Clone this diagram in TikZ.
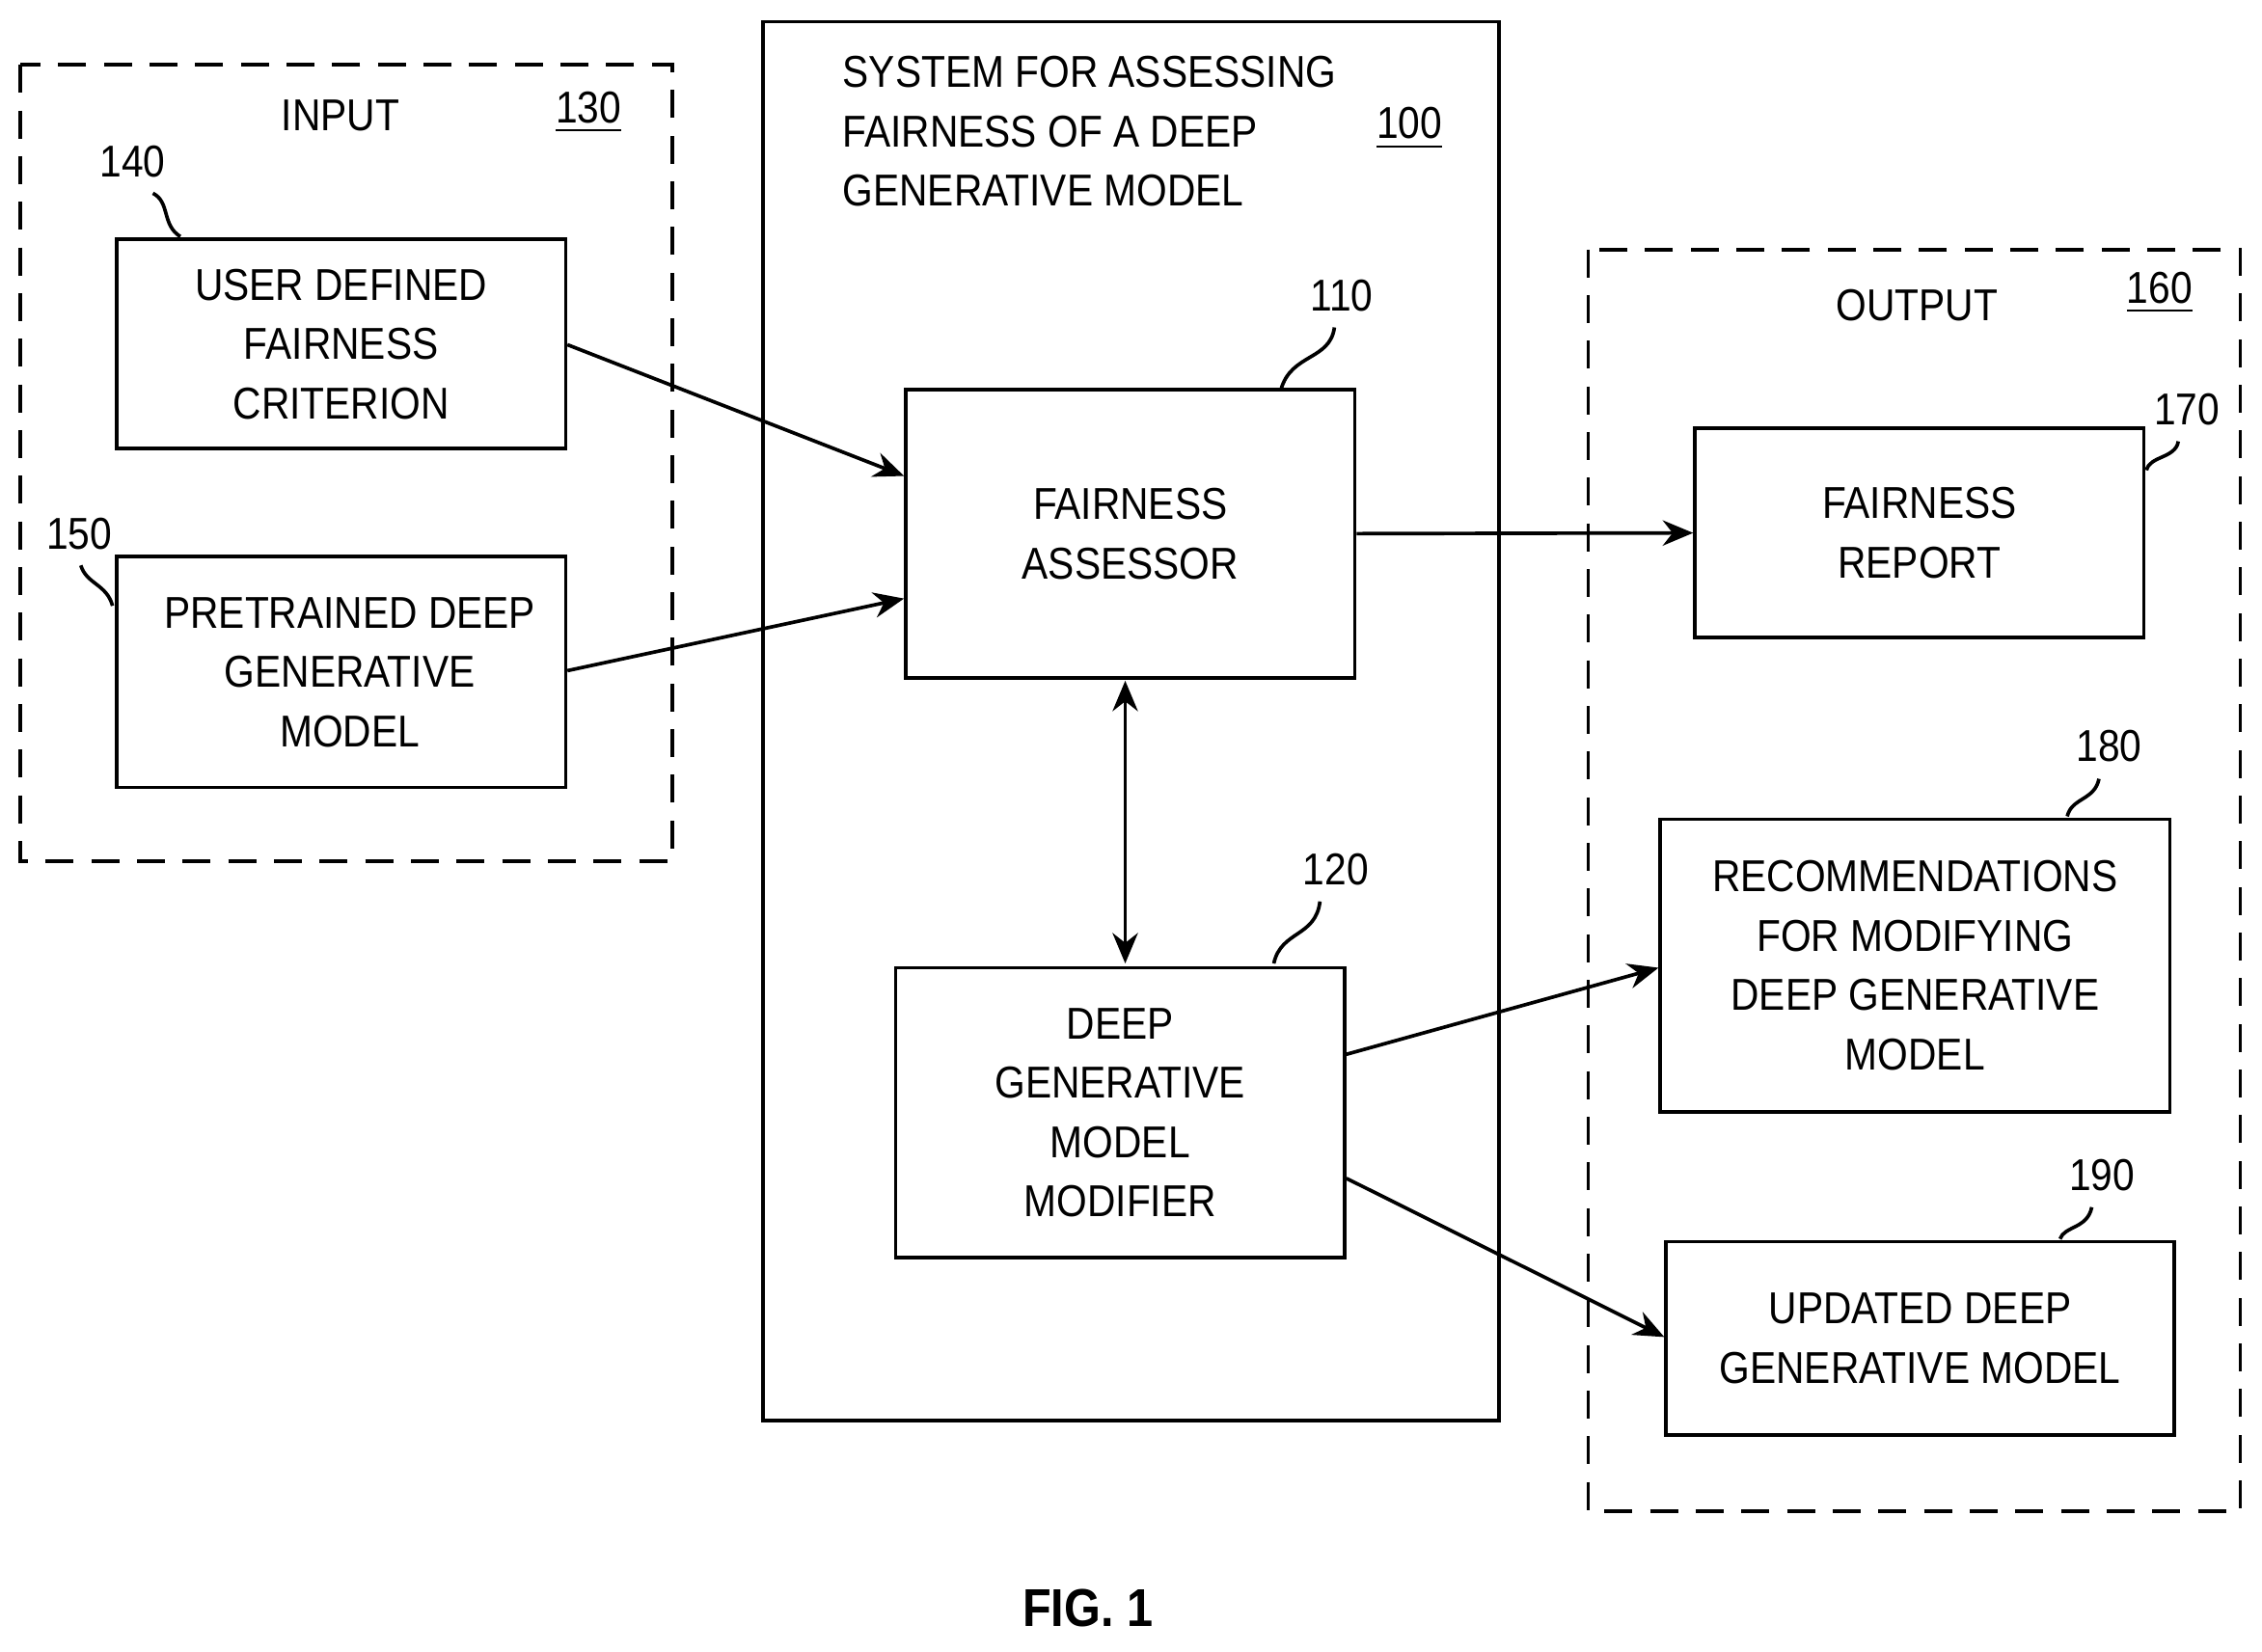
\documentclass[tikz,border=0pt]{standalone}
\usepackage{fontspec}
\setmainfont[FakeStretch=0.88]{Liberation Sans}
\usetikzlibrary{arrows.meta}
\begin{document}
\begin{tikzpicture}[x=0.01cm,y=-0.01cm,
  lw/.style={line width=0.7pt},
  box/.style={draw,lw,rectangle,inner sep=0pt,align=center,font=\fontsize{8.8}{11.7}\selectfont},
  dbox/.style={draw,lw,dash pattern=on 5.5pt off 3.5pt},
  lbl/.style={font=\fontsize{8.8}{11.7}\selectfont,inner sep=1pt},
  arr/.style={lw,-{Stealth[length=6pt,width=5pt]}},
  sq/.style={lw}]
\useasboundingbox (0,0) rectangle (1568,1145);
% containers
\draw[dbox] (14,45) rectangle (466,597);
\draw[dbox] (1101,173) rectangle (1553,1048);
\draw[lw] (529,15) rectangle (1039,985);
\node[lbl] (tin) at (236,80) {INPUT};
\node[lbl] (n130) at (408,78) {\underline{130}};
\node[lbl] (tout) at (1329,212) {OUTPUT};
\node[lbl] (n160) at (1497,203) {\underline{160}};
\node[lbl,anchor=west,align=left] (tsys) at (580,91) {SYSTEM FOR ASSESSING\\FAIRNESS OF A DEEP\\GENERATIVE MODEL};
\node[lbl] (n100) at (977,89) {\underline{100}};
% boxes
\node[box,minimum width=311\pgflinewidth*0+3.11cm,minimum height=1.45cm] (b140) at (236.5,238.5) {USER DEFINED\\FAIRNESS\\CRITERION};
\node[box,minimum width=3.11cm,minimum height=1.60cm] (b150) at (236.5,466) {\hspace*{0.12cm}PRETRAINED DEEP\\\hspace*{0.12cm}GENERATIVE\\\hspace*{0.12cm}MODEL};
\node[box,minimum width=3.11cm,minimum height=2.00cm] (b110) at (783.5,370) {FAIRNESS\\ASSESSOR};
\node[box,minimum width=3.11cm,minimum height=2.01cm] (b120) at (776.5,771.5) {DEEP\\GENERATIVE\\MODEL\\MODIFIER};
\node[box,minimum width=3.11cm,minimum height=1.45cm] (b170) at (1330.5,369.5) {FAIRNESS\\REPORT};
\node[box,minimum width=3.53cm,minimum height=2.03cm] (b180) at (1327.5,669.5) {RECOMMENDATIONS\\FOR MODIFYING\\DEEP GENERATIVE\\MODEL};
\node[box,minimum width=3.52cm,minimum height=1.34cm] (b190) at (1331,928) {UPDATED DEEP\\GENERATIVE MODEL};
% reference labels
\node[lbl] (n140) at (92,112) {140};
\node[lbl] (n150) at (55,370) {150};
\node[lbl] (n110) at (930,205) {110};
\node[lbl] (n120) at (926,603) {120};
\node[lbl] (n170) at (1516,284) {170};
\node[lbl] (n180) at (1462,517) {180};
\node[lbl] (n190) at (1457,815) {190};
\draw[sq] (106,134) .. controls (118,140) and (112,156) .. (125,164);
\draw[sq] (56,392) .. controls (60,405) and (74,405) .. (78,420);
\draw[sq] (925,227) .. controls (922,250) and (895,245) .. (888,270);
\draw[sq] (915,625) .. controls (912,650) and (888,645) .. (883,668);
\draw[sq] (1510,306) .. controls (1508,318) and (1490,316) .. (1488,326);
\draw[sq] (1455,540) .. controls (1452,555) and (1436,553) .. (1433,566);
\draw[sq] (1450,837) .. controls (1447,852) and (1431,850) .. (1428,859);
% arrows
\draw[arr] (b140.east |- 0,239) -- (b110.west |- 0,330);
\draw[arr] (b150.east |- 0,465) -- (b110.west |- 0,415);
\draw[arr] (b110.east) -- (b170.west);
\draw[lw,{Stealth[length=6pt,width=5pt]}-{Stealth[length=6pt,width=5pt]}] (780,472) -- (780,668);
\draw[arr] (b120.east |- 0,731) -- (b180.west |- 0,671);
\draw[arr] (b120.east |- 0,817) -- (b190.west |- 0,927);
\node[font=\bfseries\fontsize{10.5}{12}\selectfont] (fig) at (754,1115) {FIG. 1};
\end{tikzpicture}
\end{document}
